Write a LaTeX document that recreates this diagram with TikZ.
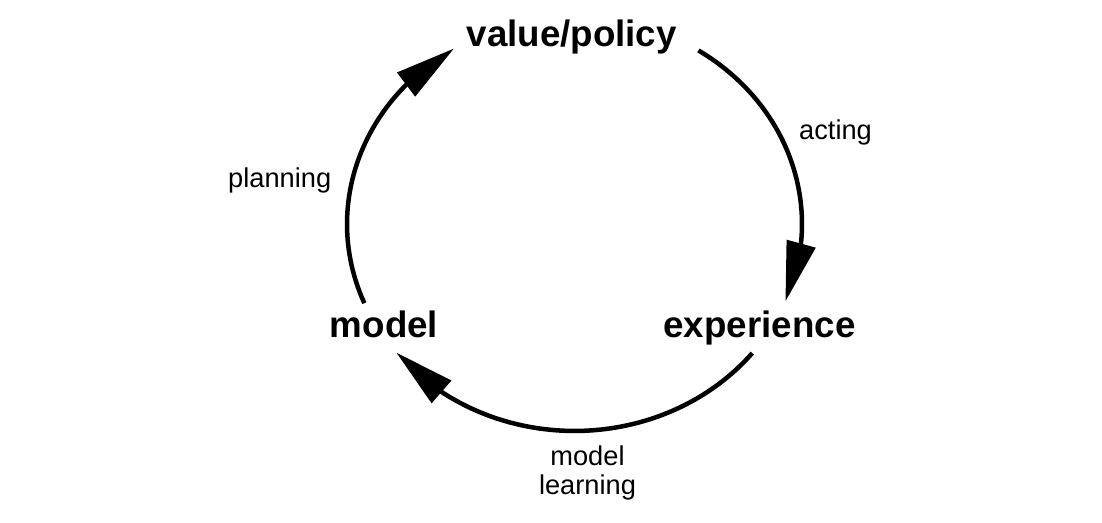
\documentclass[tikz,border=0pt]{standalone}
\usepackage{fontspec}
\setmainfont{Liberation Sans}
\usetikzlibrary{arrows.meta,bending}
\begin{document}
\begin{tikzpicture}[x=0.02cm,y=0.02cm,
  state/.style={font=\fontsize{20.9}{24}\selectfont\bfseries, inner sep=0pt, anchor=base},
  lbl/.style={font=\fontsize{15.5}{17}\selectfont, inner sep=0pt, align=center},
  cyc/.style={line width=0.09cm, -{Triangle[length=1.2cm,width=0.58cm,flex]}}]
\path[use as bounding box, fill=white] (0,0) rectangle (1102,522);
\coordinate (ctr) at (574.5,298);
% states
\node[state] (vp) at (571.7,476) {value/policy};
\node[state] (exp) at (759.5,185) {experience};
\node[state] (mod) at (384,185) {model};
% labels
\node[lbl, anchor=base] (act) at (835.5,382.7) {acting};
\node[lbl, anchor=base] (plan) at (279.7,334.7) {planning};
\node[lbl, anchor=center] (ml) at (587.5,49) {model\\learning};
% arcs of the cycle
\draw[cyc] ([shift={(57:4.55cm and 4.14cm)}]ctr) arc[start angle=57, end angle=-22, x radius=4.55cm, y radius=4.14cm];
\draw[cyc] ([shift={(-38.6:4.55cm and 4.14cm)}]ctr) arc[start angle=-38.6, end angle=-141.6, x radius=4.55cm, y radius=4.14cm];
\draw[cyc] ([shift={(202.5:4.55cm and 4.14cm)}]ctr) arc[start angle=202.5, end angle=122, x radius=4.55cm, y radius=4.14cm];
\end{tikzpicture}
\end{document}
